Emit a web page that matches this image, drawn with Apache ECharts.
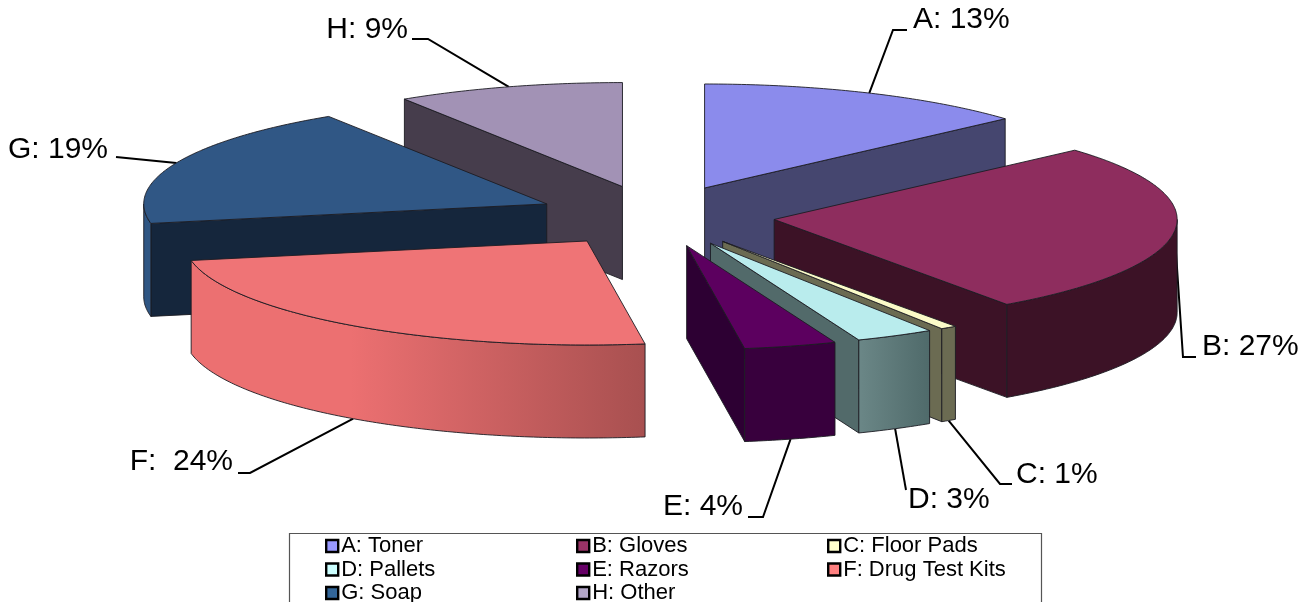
<!DOCTYPE html>
<html><head><meta charset="utf-8">
<style>html,body{margin:0;padding:0;background:#fff;overflow:hidden}#c{width:1313px;height:602px}</style>
<script src="https://cdn.jsdelivr.net/npm/echarts@6/dist/echarts.min.js"></script>
</head><body><div id="c"></div>
<script>
// ---- data ----
const categories = ['A: Toner','B: Gloves','C: Floor Pads','D: Pallets','E: Razors','F: Drug Test Kits','G: Soap','H: Other'];
const values = [13.4,26.8,0.65,3.15,3.7,24.3,18.9,9.1];
const sliceLabels = ['A: 13%','B: 27%','C: 1%','D: 3%','E: 4%','F:  24%','G: 19%','H: 9%'];
// ---- style ----
const legendColors = ['#9999ff','#993366','#ffffcc','#ccffff','#660066','#ff8080','#336699','#b3a6c8'];
const topColors  = ['#8b8bec','#8e2d5e','#fbfbc8','#b9eced','#5c005f','#ef7476','#305785','#a292b5'];
const wallColors = ['#45466f','#3c1226','#6b6b52','#526a6a','#2d0033','#e06c6e','#15263c','#463d4c'];
const rimLeft    = ['#45466f','#3c1226','#6b6b52','#6b8787','#38003d','#ec7071','#2f5683','#463d4c'];
const rimRight   = ['#45466f','#3c1226','#6b6b52','#4f6a6a','#38003d','#a85050','#2f5683','#463d4c'];
// ---- layout ----
const CX = 656, CY = 216, RX = 403, RY = 104, DEPTH = 93, EXPLODE = 0.295;
const labelX = [913,1202,1016,908,743,233,108,408];
const labelY = [20,347,475,500,507,462,150,30];
const labelAlign = ['left','left','left','left','right','right','right','right'];
const elbowA = [[893,30],[1183,357],[1000,484],[906,490],[763,517],[250,473],[116,157],[428,39]];
const elbowB = [[907,30],[1196,357],[1012,484],[906,490],[748,517],[238,473],[116,157],[412,39]];

const total = values.reduce((a,b)=>a+b,0);
const startAngles = []; values.reduce((acc,v,i)=>{startAngles[i]=acc;return acc+v/total*360;},0);
const rad = d=>d*Math.PI/180;
const ell = (cx,cy,d)=>[cx+RX*Math.sin(rad(d)), cy-RY*Math.cos(rad(d))];
const edge = {stroke:'#1c1c22',lineWidth:0.9};

function renderSlice(params, api){
  const i = api.value(0), v = api.value(1);
  const a0 = startAngles[i], a1 = a0 + v/total*360, mid = (a0+a1)/2;
  const [tx,ty] = [CX+EXPLODE*RX*Math.sin(rad(mid)), CY-EXPLODE*RY*Math.cos(rad(mid))];
  const base = Math.round(-Math.cos(rad(mid))*1000);
  const arc = (s,e)=>{const pts=[],n=Math.max(2,Math.ceil((e-s)*1.5));for(let k=0;k<=n;k++)pts.push(ell(tx,ty,s+(e-s)*k/n));return pts;};
  const drop = p=>[p[0],p[1]+DEPTH];
  const kids = [];
  // radial walls: only the ones whose top face lies above them can be seen
  const mx = Math.sin(rad(mid)), my = -Math.cos(rad(mid));
  [a0,a1].forEach((a,k)=>{
    const dx = Math.sin(rad(a)), dy = -Math.cos(rad(a));
    const cross = dx*my-dy*mx;
    if(!((dx>1e-6&&cross<0)||(dx<-1e-6&&cross>0))) return;
    const p = ell(tx,ty,a);
    kids.push({type:'polygon',z2:base+1+k,shape:{points:[[tx,ty],p,drop(p),[tx,ty+DEPTH]]},style:{fill:wallColors[i],...edge},silent:true});
  });
  // visible rim (front half of the ellipse)
  const r0 = Math.max(a0,90), r1 = Math.min(a1,270);
  if(r1>r0){
    const top = arc(r0,r1);
    const fill = rimLeft[i]===rimRight[i]? rimLeft[i] :
      new echarts.graphic.LinearGradient(0,0,1,0,[{offset:0,color:rimLeft[i]},{offset:i===5?0.35:1,color:i===5?rimLeft[i]:rimRight[i]},{offset:1,color:rimRight[i]}]);
    kids.push({type:'polygon',z2:base+3,shape:{points:top.concat(top.slice().reverse().map(drop))},style:{fill,...edge},silent:true});
  }
  // top face
  kids.push({type:'polygon',z2:base+4,shape:{points:[[tx,ty]].concat(arc(a0,a1))},style:{fill:topColors[i],...edge},silent:true});
  // leader line and label
  const out = ell(tx,ty,mid);
  const front = Math.cos(rad(mid))<-0.5;
  const anchor = front? drop(out):out;
  kids.push({type:'polyline',z2:-2000,shape:{points:[anchor,elbowA[i],elbowB[i]]},style:{stroke:'#000',lineWidth:2,fill:null},silent:true});
  kids.push({type:'text',z2:3000,style:{x:labelX[i],y:labelY[i],text:sliceLabels[i],fill:'#000',font:'30px "Liberation Sans", Arial, sans-serif',align:labelAlign[i],verticalAlign:'middle'},silent:true});
  return {type:'group',children:kids};
}

const series = categories.map((name,i)=>({
  type:'custom',name,coordinateSystem:'none',renderItem:renderSlice,
  data:[[i,values[i]]],itemStyle:{color:legendColors[i]},animation:false,silent:true
}));
const legendCol = (data,left)=>({
  data,left,top:535,height:120,orient:'vertical',selectedMode:false,icon:'rect',itemWidth:12,itemHeight:12,itemGap:1.5,padding:0,
  itemStyle:{borderColor:'#000',borderWidth:2.4},
  textStyle:{fontFamily:'"Liberation Sans", Arial, sans-serif',fontSize:22,color:'#000',padding:[0,0,0,-2],lineHeight:20}
});
const chart = echarts.init(document.getElementById('c'),null,{renderer:'canvas'});
chart.setOption({
  backgroundColor:'#fff',animation:false,
  legend:[
    legendCol([categories[0],categories[3],categories[6]],325),
    legendCol([categories[1],categories[4],categories[7]],576),
    legendCol([categories[2],categories[5]],827)
  ],
  graphic:[{type:'rect',silent:true,z:-1,shape:{x:289.5,y:533.5,width:752,height:100},style:{fill:'#fff',stroke:'#555',lineWidth:1.2}}],
  series
});
</script></body></html>
